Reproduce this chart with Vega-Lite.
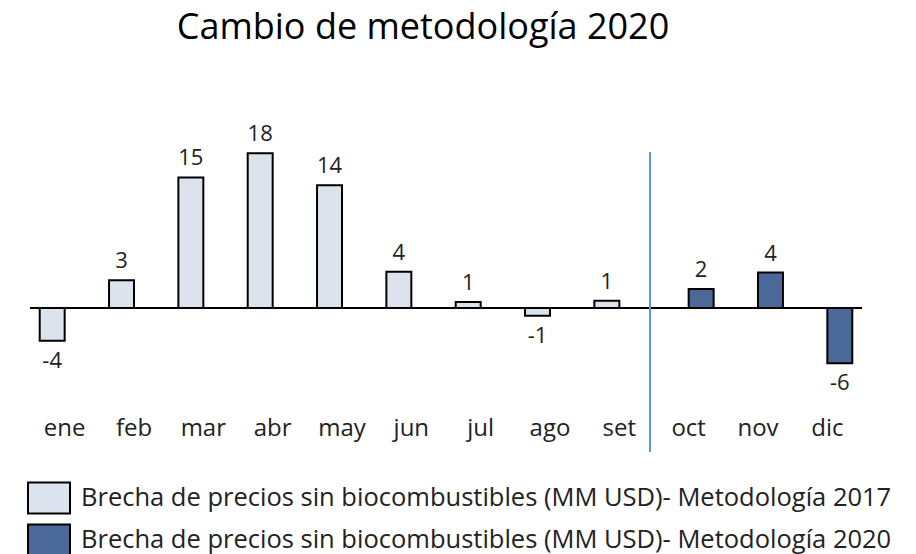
{
  "$schema": "https://vega.github.io/schema/vega-lite/v6.json",
  "autosize": {"type": "none"},
  "width": 832,
  "height": 352,
  "padding": {"left": 30, "top": 100, "right": 54, "bottom": 102},
  "background": "white",
  "title": {
    "text": "Cambio de metodología 2020",
    "fontSize": 36,
    "font": "Open Sans",
    "fontWeight": "normal",
    "color": "black",
    "anchor": "middle",
    "dx": -23,
    "offset": 53
  },
  "data": {
    "values": [
      {"mes": "ene", "serie": "Brecha de precios sin biocombustibles (MM USD)- Metodología 2017", "v": -3.8},
      {"mes": "feb", "serie": "Brecha de precios sin biocombustibles (MM USD)- Metodología 2017", "v": 3.2},
      {"mes": "mar", "serie": "Brecha de precios sin biocombustibles (MM USD)- Metodología 2017", "v": 15.1},
      {"mes": "abr", "serie": "Brecha de precios sin biocombustibles (MM USD)- Metodología 2017", "v": 17.9},
      {"mes": "may", "serie": "Brecha de precios sin biocombustibles (MM USD)- Metodología 2017", "v": 14.2},
      {"mes": "jun", "serie": "Brecha de precios sin biocombustibles (MM USD)- Metodología 2017", "v": 4.2},
      {"mes": "jul", "serie": "Brecha de precios sin biocombustibles (MM USD)- Metodología 2017", "v": 0.7},
      {"mes": "ago", "serie": "Brecha de precios sin biocombustibles (MM USD)- Metodología 2017", "v": -0.9},
      {"mes": "set", "serie": "Brecha de precios sin biocombustibles (MM USD)- Metodología 2017", "v": 0.85},
      {"mes": "oct", "serie": "Brecha de precios sin biocombustibles (MM USD)- Metodología 2020", "v": 2.2},
      {"mes": "nov", "serie": "Brecha de precios sin biocombustibles (MM USD)- Metodología 2020", "v": 4.1},
      {"mes": "dic", "serie": "Brecha de precios sin biocombustibles (MM USD)- Metodología 2020", "v": -6.4}
    ]
  },
  "encoding": {
    "x": {
      "field": "mes",
      "type": "nominal",
      "sort": ["ene","feb","mar","abr","may","jun","jul","ago","set","oct","nov","dic"],
      "scale": {"paddingInner": 0.28, "paddingOuter": 0.14},
      "axis": {
        "title": null,
        "domain": false,
        "ticks": false,
        "labelAngle": 0,
        "labelFontSize": 24,
        "labelFont": "Open Sans",
        "labelColor": "#222",
        "labelPadding": 2,
        "offset": -38
      }
    },
    "xOffset": {
      "field": "serie",
      "type": "nominal",
      "scale": {"paddingInner": 0, "paddingOuter": 0}
    }
  },
  "layer": [
    {
      "mark": {"type": "bar", "stroke": "black", "strokeWidth": 2},
      "encoding": {
        "y": {
          "field": "v",
          "type": "quantitative",
          "scale": {"domain": [-16.65, 24.05], "nice": false, "zero": false},
          "axis": null
        },
        "fill": {
          "field": "serie",
          "type": "nominal",
          "scale": {"range": ["#dce3ee", "#4a6898"]},
          "legend": {
            "title": null,
            "orient": "none",
            "legendX": -3,
            "legendY": 376,
            "symbolType": "M-1,-0.74H1V0.74H-1Z",
            "symbolSize": 1764,
            "symbolStrokeColor": "black",
            "symbolStrokeWidth": 2,
            "symbolOpacity": 1,
            "labelFontSize": 25.5,
            "labelFont": "Open Sans",
            "labelColor": "#222",
            "labelOffset": 10,
            "labelLimit": 1000,
            "rowPadding": -1
          }
        }
      }
    },
    {
      "transform": [{"filter": "datum.v >= 0"}],
      "mark": {"type": "text", "baseline": "alphabetic", "dy": -12, "fontSize": 22, "font": "Open Sans", "color": "#222"},
      "encoding": {
        "y": {"field": "v", "type": "quantitative"},
        "text": {"field": "v", "type": "quantitative", "format": ".0f"}
      }
    },
    {
      "transform": [{"filter": "datum.v < 0"}],
      "mark": {"type": "text", "baseline": "top", "dy": 10, "fontSize": 22, "font": "Open Sans", "color": "#222"},
      "encoding": {
        "y": {"field": "v", "type": "quantitative"},
        "text": {"field": "v", "type": "quantitative", "format": ".0f"}
      }
    },
    {
      "mark": {"type": "rule", "color": "black", "strokeWidth": 2},
      "encoding": {
        "y": {"datum": 0},
        "x": null,
        "xOffset": null
      }
    },
    {
      "mark": {"type": "rule", "color": "#5b9bd5", "strokeWidth": 1.5},
      "encoding": {
        "x": {"datum": "set", "bandPosition": 1.116},
        "xOffset": null,
        "y": {"datum": 18},
        "y2": {"datum": -16.65}
      }
    }
  ],
  "config": {
    "view": {"stroke": null},
    "font": "Open Sans",
    "locale": {
      "number": {
        "decimal": ".",
        "thousands": ",",
        "grouping": [3],
        "currency": ["$", ""],
        "minus": "-"
      }
    }
  }
}
